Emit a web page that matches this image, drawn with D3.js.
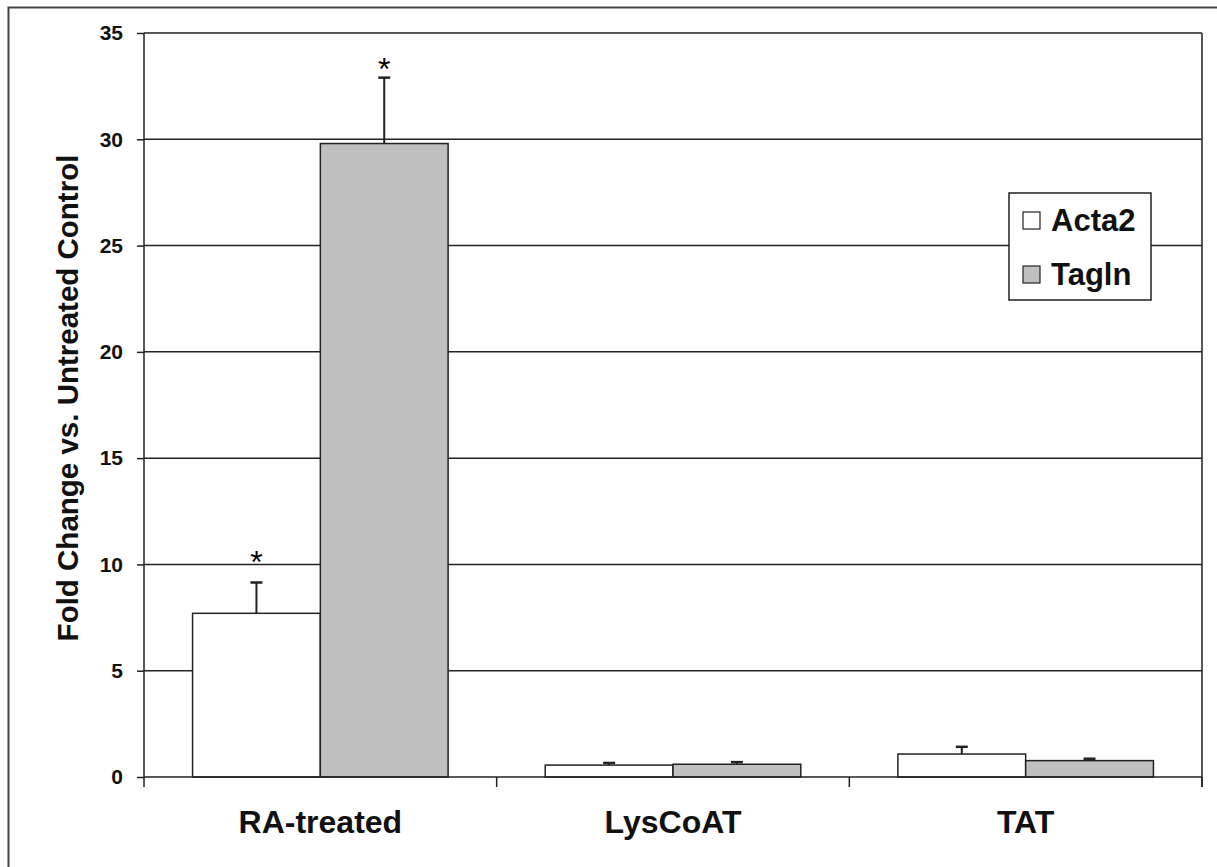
<!DOCTYPE html>
<html>
<head>
<meta charset="utf-8">
<script src="https://cdn.jsdelivr.net/npm/d3@7"></script>
<style>
  body { margin: 0; background: #fff; }
  svg text { font-family: "Liberation Sans", Arial, sans-serif; font-weight: bold; }
</style>
</head>
<body>
<svg width="1217" height="867"></svg>
<script>
// chart data
const categories = ["RA-treated", "LysCoAT", "TAT"];
const seriesNames = ["Acta2", "Tagln"];
const acta2 = [7.7, 0.56, 1.08];
const acta2Err = [1.45, 0.1, 0.34];
const tagln = [29.8, 0.6, 0.77];
const taglnErr = [3.1, 0.1, 0.09];
// asterisk positions (value units), null = no asterisk
const acta2Star = [10.45, null, null];
const taglnStar = [33.65, null, null];
const yTicks = [0, 5, 10, 15, 20, 25, 30, 35];
const colors = ["#ffffff", "#c0c0c0"];

const svg = d3.select("svg");
const margin = {left: 144, top: 33, right: 1202, bottom: 777};

// outer frame (runs off the right/bottom edge like the source)
svg.append("path")
    .attr("d", "M8.5,870 L8.5,7.5 L1220,7.5")
    .attr("fill", "none").attr("stroke", "#444").attr("stroke-width", 2);

const x = d3.scaleBand().domain(categories).range([margin.left, margin.right]);
const x1 = d3.scaleBand().domain(seriesNames)
    .range([0, x.bandwidth()]).paddingOuter(0.38);
const y = d3.scaleLinear().domain([0, 35]).range([margin.bottom, margin.top]);

// gridlines
svg.append("g").selectAll("line").data(yTicks.filter(d => d > 0))
    .enter().append("line")
    .attr("x1", margin.left).attr("x2", margin.right)
    .attr("y1", d => y(d)).attr("y2", d => y(d))
    .attr("stroke", "#222").attr("stroke-width", 1.5);

// right border of plot
svg.append("line")
    .attr("x1", margin.right).attr("x2", margin.right)
    .attr("y1", margin.top).attr("y2", margin.bottom + 10)
    .attr("stroke", "#222").attr("stroke-width", 1.5);

// bars
const rows = categories.map((c, i) => [
    {cat: c, s: "Acta2", v: acta2[i], e: acta2Err[i], star: acta2Star[i], col: colors[0]},
    {cat: c, s: "Tagln", v: tagln[i], e: taglnErr[i], star: taglnStar[i], col: colors[1]}
]).flat();
const cx = d => x(d.cat) + x1(d.s) + x1.bandwidth() / 2;

const g = svg.append("g");
g.selectAll("line.err").data(rows).enter().append("line")
    .attr("x1", cx).attr("x2", cx)
    .attr("y1", d => y(d.v)).attr("y2", d => y(d.v + d.e))
    .attr("stroke", "#222").attr("stroke-width", 2);
g.selectAll("line.cap").data(rows).enter().append("line")
    .attr("x1", d => cx(d) - 6).attr("x2", d => cx(d) + 6)
    .attr("y1", d => y(d.v + d.e)).attr("y2", d => y(d.v + d.e))
    .attr("stroke", "#222").attr("stroke-width", 2.5);
g.selectAll("rect").data(rows).enter().append("rect")
    .attr("x", d => x(d.cat) + x1(d.s))
    .attr("width", x1.bandwidth())
    .attr("y", d => y(d.v))
    .attr("height", d => y(0) - y(d.v))
    .attr("fill", d => d.col)
    .attr("stroke", "#222").attr("stroke-width", 1.5);
g.selectAll("text.star").data(rows.filter(d => d.star !== null)).enter().append("text")
    .attr("x", cx)
    .attr("y", d => y(d.star) + 18)
    .attr("text-anchor", "middle")
    .attr("font-size", 32).style("font-weight", "normal")
    .text("*");

// y axis
const yAxis = svg.append("g")
    .attr("transform", `translate(${margin.left},0)`)
    .call(d3.axisLeft(y).tickValues(yTicks).tickSize(7).tickPadding(14));
yAxis.selectAll("text").attr("font-size", 21).attr("fill", "#111");
yAxis.selectAll("line, path").attr("stroke", "#222").attr("stroke-width", 1.5);
yAxis.select(".domain").attr("d", `M0,${margin.top}V${margin.bottom}`);

// x axis
const xAxis = svg.append("g")
    .attr("transform", `translate(0,${margin.bottom})`)
    .call(d3.axisBottom(x).tickSize(0).tickPadding(33));
xAxis.select(".domain").attr("d", `M${margin.left},0H${margin.right}`)
    .attr("stroke", "#222").attr("stroke-width", 1.5);
xAxis.selectAll("text").attr("font-size", 32).attr("fill", "#111");
xAxis.append("g").selectAll("line")
    .data(d3.range(categories.length + 1))
    .enter().append("line")
    .attr("x1", i => margin.left + i * x.step())
    .attr("x2", i => margin.left + i * x.step())
    .attr("y1", 0).attr("y2", 10)
    .attr("stroke", "#222").attr("stroke-width", 1.5);

// y label
svg.append("text")
    .attr("transform", `translate(78,398) rotate(-90)`)
    .attr("text-anchor", "middle")
    .attr("font-size", 29.5).attr("fill", "#111")
    .text("Fold Change vs. Untreated Control");

// legend
const leg = svg.append("g").attr("transform", "translate(1009,193)");
leg.append("rect").attr("width", 142).attr("height", 107)
    .attr("fill", "#fff").attr("stroke", "#222").attr("stroke-width", 1.5);
const li = leg.selectAll("g.item").data(seriesNames).enter().append("g")
    .attr("transform", (d, i) => `translate(14,${19 + i * 54})`);
li.append("rect").attr("width", 17).attr("height", 17)
    .attr("fill", (d, i) => colors[i]).attr("stroke", "#222").attr("stroke-width", 1.2);
li.append("text").attr("x", 28).attr("y", 19)
    .attr("font-size", 31).attr("fill", "#111")
    .text(d => d);
</script>
</body>
</html>
